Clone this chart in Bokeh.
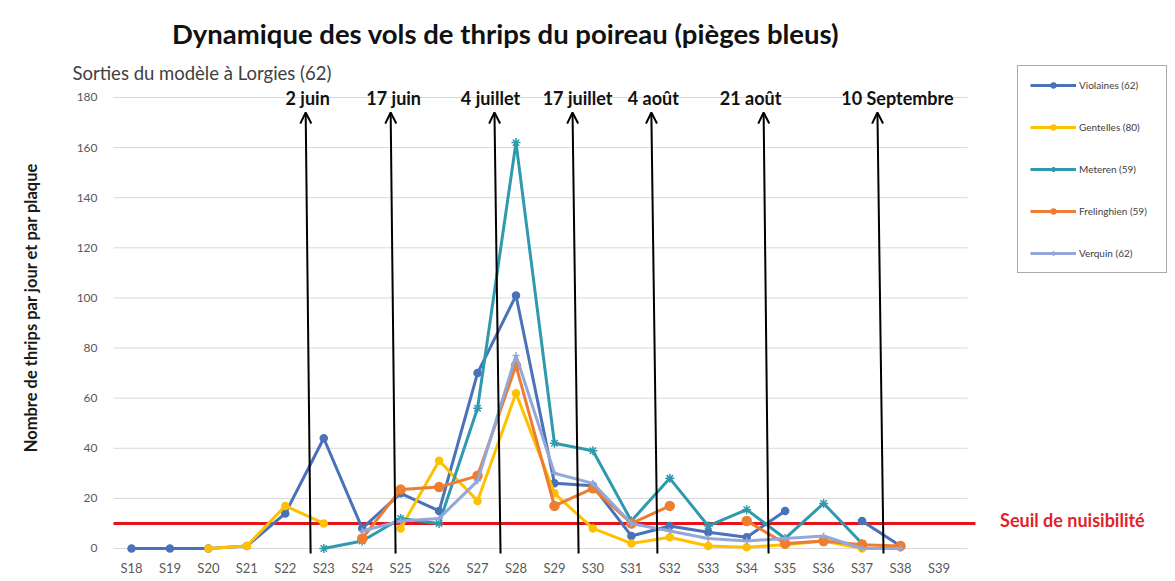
import math
from bokeh.plotting import figure
from bokeh.models import (ColumnDataSource, Legend, LegendItem, Label,
                          Arrow, OpenHead, FixedTicker, Range1d)
from bokeh.embed import file_html
from bokeh.resources import INLINE

nan = float("nan")

# ---------------- data ----------------
weeks = [18, 19, 20, 21, 22, 23, 24, 25, 26, 27, 28, 29, 30, 31, 32, 33, 34, 35, 36, 37, 38, 39]
week_labels = ["S18", "S19", "S20", "S21", "S22", "S23", "S24", "S25", "S26", "S27", "S28",
               "S29", "S30", "S31", "S32", "S33", "S34", "S35", "S36", "S37", "S38", "S39"]

violaines = [0, 0, 0, 1, 14, 44, 8, 22, 15, 70, 101, 26, 25, 5, 9, 6.5, 4.5, 15, nan, 11, 1, nan]
gentelles = [nan, nan, 0, 1, 17, 10, nan, 8, 35, 19, 62, 22, 8, 2, 4.5, 1, 0.5, 1.5, 3, 0, nan, nan]
meteren = [nan, nan, nan, nan, nan, 0, 3, 12, 10, 56, 162, 42, 39, 11, 28, 9, 15.5, 4, 18, 2, nan, nan]
frelinghien = [nan, nan, nan, nan, nan, nan, 4, 23.5, 24.5, 29, 73, 17, 24, 10, 17, nan, 11, 2, 3, 1.5, 1, nan]
verquin = [nan, nan, nan, nan, nan, nan, 7, 11, 12, 27, 77, 30, 26, 10, 7, 4, 3, 4, 5, 0, 0, nan]

series_names = ["Violaines (62)", "Gentelles (80)", "Meteren (59)", "Frelinghien (59)", "Verquin (62)"]

seuil = 10
y_ticks = [0, 20, 40, 60, 80, 100, 120, 140, 160, 180]
y_tick_labels = ["0", "20", "40", "60", "80", "100", "120", "140", "160", "180"]

# event arrows (week position of arrow foot and head)
event_labels = ["2 juin", "17 juin", "4 juillet", "17 juillet", "4 août", "21 août", "10 Septembre"]
event_foot = [22.66, 24.87, 27.60, 29.63, 31.68, 34.57, 37.56]
event_head = [22.53, 24.74, 27.44, 29.47, 31.52, 34.44, 37.40]

# ---------------- style / layout ----------------
colors = ["#4a72b8", "#ffc000", "#2f9aae", "#ed7d31", "#93a7d8"]
markers = ["circle", "circle", "asterisk", "circle", "cross"]
msizes = [7, 7, 9, 9, 7]
label_dx = [2, 3, -4, 5, 2, -13, 20]
FONT = "Lato"

X0, X1 = 14.593, 45.152      # full-canvas frame
Y0, Y1 = -2.0, 218.71
GRID_X0, GRID_X1 = 17.53, 39.74
SEUIL_X1 = 39.95

p = figure(width=1175, height=581, output_backend="svg", toolbar_location=None, title=None,
           x_range=Range1d(X0, X1), y_range=Range1d(Y0, Y1),
           min_border=0, min_border_left=0, min_border_right=0, min_border_top=0,
           min_border_bottom=28)
p.outline_line_color = None
p.background_fill_color = "white"
p.border_fill_color = "white"
p.grid.visible = False
p.yaxis.visible = False

p.xaxis.ticker = FixedTicker(ticks=weeks)
p.xaxis.major_label_overrides = {w: l for w, l in zip(weeks, week_labels)}
p.xaxis.axis_line_color = None
p.xaxis.major_tick_line_color = None
p.xaxis.minor_tick_line_color = None
p.xaxis.major_label_text_font = FONT
p.xaxis.major_label_text_font_size = "13px"
p.xaxis.major_label_text_color = "#595959"
p.xaxis.major_label_standoff = 0

# horizontal gridlines
p.segment(x0=[GRID_X0] * len(y_ticks), x1=[GRID_X1] * len(y_ticks), y0=y_ticks, y1=y_ticks,
          line_color="#d9d9d9", line_width=1)
# y tick labels
for t, lab in zip(y_ticks, y_tick_labels):
    p.add_layout(Label(x=17.116, y=t, text=lab, text_align="right", text_baseline="middle",
                       text_font=FONT, text_font_size="12px", text_color="#595959"))
# y axis title
p.add_layout(Label(x=15.399, y=96.2, text="Nombre de thrips par jour et par plaque",
                   angle=math.pi / 2, text_align="center", text_baseline="middle",
                   text_font=FONT, text_font_style="bold", text_font_size="16.5px",
                   text_color="#1a1a1a"))

# threshold line
p.segment(x0=[GRID_X0], x1=[SEUIL_X1], y0=[seuil], y1=[seuil], line_color="#e5141b", line_width=3)

# series
src = ColumnDataSource(dict(x=weeks, v0=violaines, v1=gentelles, v2=meteren, v3=frelinghien, v4=verquin))
items = []
for i, name in enumerate(series_names):
    col = "v%d" % i
    ln = p.line("x", col, source=src, line_color=colors[i], line_width=3)
    sc = p.scatter("x", col, source=src, marker=markers[i], size=msizes[i],
                   fill_color=colors[i], line_color=colors[i], line_width=1.5)
    items.append(LegendItem(label=name, renderers=[ln, sc]))

# arrows + labels
for lab, xf, xh, dx in zip(event_labels, event_foot, event_head, label_dx):
    p.add_layout(Arrow(end=OpenHead(size=11, line_width=2, line_color="black"),
                       x_start=xf, y_start=-4.5, x_end=xh, y_end=174,
                       line_color="black", line_width=2))
    p.add_layout(Label(x=xh, y=179.6, text=lab, x_offset=dx, text_align="center",
                       text_baseline="middle", text_font=FONT, text_font_style="bold",
                       text_font_size="18px", text_color="#111111"))

# titles
p.add_layout(Label(x=27.73, y=205.5, text="Dynamique des vols de thrips du poireau (pièges bleus)",
                   text_align="center", text_baseline="middle", text_font=FONT,
                   text_font_style="bold", text_font_size="27.5px", text_color="#111111"))
p.add_layout(Label(x=16.466, y=189.6, text="Sorties du modèle à Lorgies (62)",
                   text_align="left", text_baseline="middle", text_font=FONT,
                   text_font_size="18.5px", text_color="#404040"))
p.add_layout(Label(x=42.47, y=11.2, text="Seuil de nuisibilité",
                   text_align="center", text_baseline="middle", text_font=FONT,
                   text_font_style="bold", text_font_size="18px", text_color="#e3232b"))

legend = Legend(items=items, location=(1017, 280), orientation="vertical",
                label_text_font=FONT, label_text_font_size="10px", label_text_color="#404040",
                glyph_width=46, glyph_height=12, label_height=14, label_width=75,
                spacing=28, padding=12, margin=0, label_standoff=3,
                border_line_color="#555555", border_line_width=1,
                background_fill_color="white", background_fill_alpha=1)
p.add_layout(legend, "center")

open("out.html", "w").write(file_html(p, INLINE))
